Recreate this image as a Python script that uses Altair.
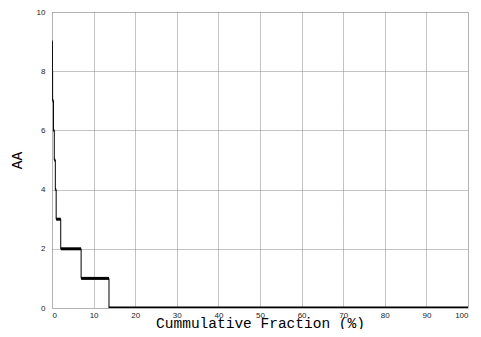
import altair as alt
import pandas as pd

# step levels and where each level starts / ends (Cummulative Fraction %)
levels = [9, 8, 7, 6, 5, 4, 3, 2, 1, 0]
x_start = [0.0, 0.1, 0.15, 0.35, 0.55, 0.8, 1.0, 2.1, 7.0, 13.7]
x_end = [0.1, 0.15, 0.35, 0.55, 0.8, 1.0, 2.1, 7.0, 13.7, 100.0]

x_ticks = [0, 10, 20, 30, 40, 50, 60, 70, 80, 90, 100]
y_ticks = [0, 2, 4, 6, 8, 10]

seg = pd.DataFrame({"level": levels, "xs": x_start, "xe": x_end})
line_df = pd.DataFrame({"x": x_start + [x_end[-1]], "y": levels + [levels[-1]]})

xscale = alt.Scale(domain=[0, 100], nice=False, zero=False)
yscale = alt.Scale(domain=[0, 10], nice=False)

xaxis = alt.Axis(values=x_ticks, title="Cummulative Fraction (%)", grid=True,
                 gridDash=[1, 1], gridColor="#888888", gridWidth=1,
                 tickSize=0, labelPadding=3, labelFontSize=8, labelColor="#222222",
                 labelFont="Liberation Sans", domain=False,
                 titleFont="Liberation Mono", titleFontSize=14.5, titleFontWeight="normal",
                 titleBaseline="alphabetic", titleY=19, titleColor="#000000")
yaxis = alt.Axis(values=y_ticks, title="AA", grid=True,
                 gridDash=[1, 1], gridColor="#888888", gridWidth=1,
                 tickSize=0, labelPadding=7, labelFontSize=8, labelColor="#222222",
                 labelFont="Liberation Sans", domain=False,
                 titleFont="Liberation Mono", titleFontSize=14.5, titleFontWeight="normal",
                 titlePadding=12, titleColor="#000000")

steps = alt.Chart(line_df).mark_line(interpolate="step-after", color="black",
                                     strokeWidth=1, clip=True).encode(
    x=alt.X("x:Q", scale=xscale, axis=xaxis),
    y=alt.Y("y:Q", scale=yscale, axis=yaxis),
)

thick = alt.Chart(seg).mark_rule(color="black", strokeWidth=3, clip=True).encode(
    x=alt.X("xs:Q", scale=xscale),
    x2="xe:Q",
    y=alt.Y("level:Q", scale=yscale),
)

chart = alt.layer(steps, thick).properties(
    width=416, height=296,
    autosize=alt.AutoSizeParams(type="none"),
    padding={"left": 44, "top": 4, "right": 5, "bottom": 21},
).configure_view(stroke="black", strokeWidth=1.5).configure(background="white")

chart.save("out.html", embed_options={"renderer": "svg", "actions": False})
